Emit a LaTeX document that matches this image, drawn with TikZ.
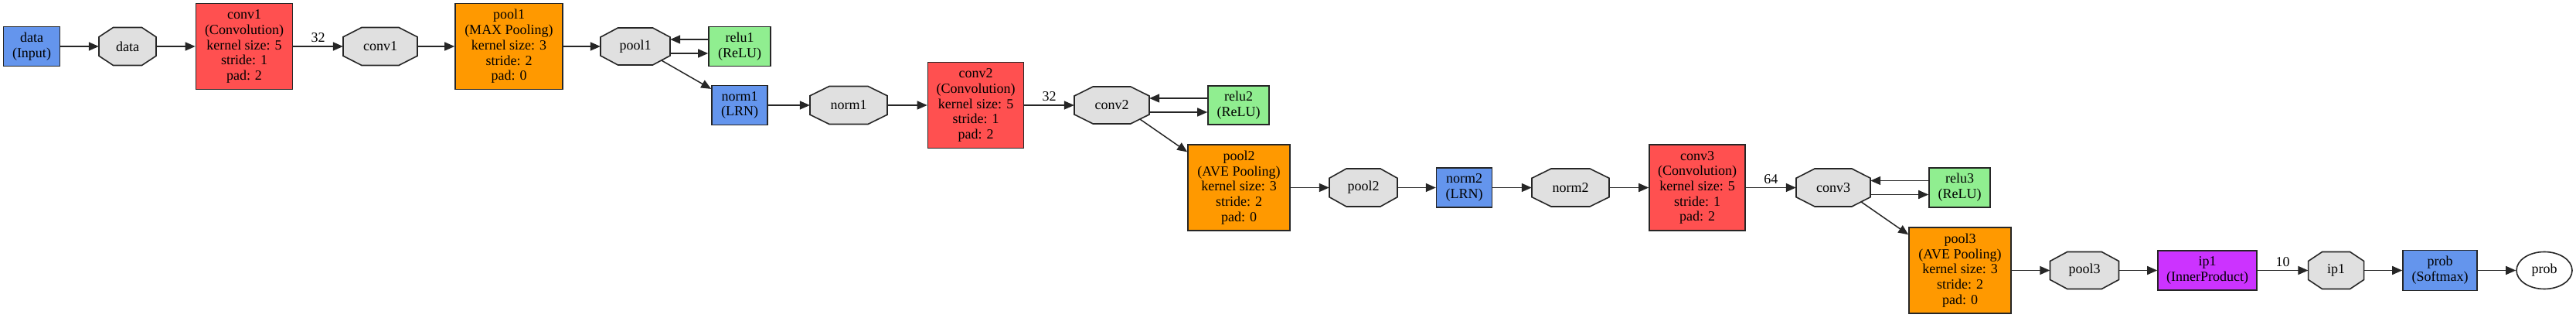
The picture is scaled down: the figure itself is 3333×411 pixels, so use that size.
\documentclass[tikz,border=0pt]{standalone}
\usepackage{fontspec}
\setmainfont{Liberation Serif}
\usetikzlibrary{arrows.meta,shapes.geometric}
\definecolor{convc}{HTML}{FF5050}
\definecolor{poolc}{HTML}{FF9900}
\definecolor{ipc}{HTML}{CC33FF}
\definecolor{bluec}{HTML}{6495ED}
\definecolor{reluc}{HTML}{90EE90}
\definecolor{blobc}{HTML}{E0E0E0}
\newcommand{\octblob}[6]{%
  \draw[blobshape] (#2-#4/2,#3-#5/4) -- (#2-#4/4,#3-#5/2) -- (#2+#4/4,#3-#5/2) -- (#2+#4/2,#3-#5/4) -- (#2+#4/2,#3+#5/4) -- (#2+#4/4,#3+#5/2) -- (#2-#4/4,#3+#5/2) -- (#2-#4/2,#3+#5/4) -- cycle;
  \node[blobtext, minimum width=#4, minimum height=#5] (#1) at (#2,#3) {#6};
  \coordinate (#1-se) at (#2+3*#4/8,#3+3*#5/8);
}
\tikzset{
  txt/.style={font=\fontsize{18}{19.7}\selectfont, align=center, inner sep=0pt},
  layer/.style={txt, draw=black!85, line width=1.6pt, rectangle},
  blobshape/.style={draw=black!85, line width=1.6pt, fill=blobc},
  blobtext/.style={txt, rectangle},
  edge/.style={draw=black!85, line width=1.5pt, -{Triangle[length=13pt,width=11pt]}},
  elabel/.style={txt, midway, yshift=11pt},
}
\begin{document}
\begin{tikzpicture}[x=1pt,y=-1pt]
\useasboundingbox[fill=white] (0,0) rectangle (3333,411);
% row 1
\node[layer, fill=bluec, minimum width=73, minimum height=51] (dataL) at (41,60) {data\\(Input)};
\octblob{dataB}{165}{60}{74}{49}{data}
\node[layer, fill=convc, minimum width=125, minimum height=111] (conv1L) at (316,60) {conv1\\(Convolution)\\kernel size: 5\\stride: 1\\pad: 2};
\octblob{conv1B}{492}{60}{96}{49}{conv1}
\node[layer, fill=poolc, minimum width=139, minimum height=111] (pool1L) at (658.5,60) {pool1\\(MAX Pooling)\\kernel size: 3\\stride: 2\\pad: 0};
\octblob{pool1B}{822}{60}{90}{48}{pool1}
\node[layer, fill=reluc, minimum width=80, minimum height=51] (relu1L) at (957,60) {relu1\\(ReLU)};
% row 2
\node[layer, fill=bluec, minimum width=72, minimum height=51] (norm1L) at (957,136) {norm1\\(LRN)};
\octblob{norm1B}{1098}{136}{100}{49}{norm1}
\node[layer, fill=convc, minimum width=124, minimum height=111] (conv2L) at (1262.5,136) {conv2\\(Convolution)\\kernel size: 5\\stride: 1\\pad: 2};
\octblob{conv2B}{1438.5}{136}{97}{48}{conv2}
\node[layer, fill=reluc, minimum width=79, minimum height=50] (relu2L) at (1602.5,136) {relu2\\(ReLU)};
% row 3
\node[layer, fill=poolc, minimum width=132, minimum height=111] (pool2L) at (1603,242.5) {pool2\\(AVE Pooling)\\kernel size: 3\\stride: 2\\pad: 0};
\octblob{pool2B}{1764}{242.5}{88}{49}{pool2}
\node[layer, fill=bluec, minimum width=72, minimum height=51] (norm2L) at (1894.6,242.5) {norm2\\(LRN)};
\octblob{norm2B}{2032}{242.5}{100}{49}{norm2}
\node[layer, fill=convc, minimum width=124, minimum height=111] (conv3L) at (2196,242.5) {conv3\\(Convolution)\\kernel size: 5\\stride: 1\\pad: 2};
\octblob{conv3B}{2372}{242.5}{96}{49}{conv3}
\node[layer, fill=reluc, minimum width=79, minimum height=51] (relu3L) at (2535.5,242.5) {relu3\\(ReLU)};
% row 4
\node[layer, fill=poolc, minimum width=132, minimum height=111] (pool3L) at (2536,349.5) {pool3\\(AVE Pooling)\\kernel size: 3\\stride: 2\\pad: 0};
\octblob{pool3B}{2697}{349.5}{89}{48}{pool3}
\node[layer, fill=ipc, minimum width=128, minimum height=51] (ip1L) at (2856,349.5) {ip1\\(InnerProduct)};
\octblob{ip1B}{3022.6}{349.5}{72}{48}{ip1}
\node[layer, fill=bluec, minimum width=96, minimum height=52] (probL) at (3157,349.5) {prob\\(Softmax)};
\node[txt, ellipse, draw=black!85, line width=1.6pt, fill=white, minimum width=72, minimum height=48] (probB) at (3292,349.5) {prob};
% edges
\draw[edge] (dataL) -- (dataB);
\draw[edge] (dataB) -- (conv1L);
\draw[edge] (conv1L) -- node[elabel] {32} (conv1B);
\draw[edge] (conv1B) -- (pool1L);
\draw[edge] (pool1L) -- (pool1B);
\draw[edge] ([yshift=9pt]relu1L.west) -- ([yshift=9pt]pool1B.east);
\draw[edge] ([yshift=-9pt]pool1B.east) -- ([yshift=-9pt]relu1L.west);
\draw[edge] (pool1B-se) -- (norm1L);
\draw[edge] (norm1L) -- (norm1B);
\draw[edge] (norm1B) -- (conv2L);
\draw[edge] (conv2L) -- node[elabel] {32} (conv2B);
\draw[edge] ([yshift=9pt]relu2L.west) -- ([yshift=9pt]conv2B.east);
\draw[edge] ([yshift=-9pt]conv2B.east) -- ([yshift=-9pt]relu2L.west);
\draw[edge] (conv2B-se) -- (pool2L);
\draw[edge] (pool2L) -- (pool2B);
\draw[edge] (pool2B) -- (norm2L);
\draw[edge] (norm2L) -- (norm2B);
\draw[edge] (norm2B) -- (conv3L);
\draw[edge] (conv3L) -- node[elabel] {64} (conv3B);
\draw[edge] ([yshift=9pt]relu3L.west) -- ([yshift=9pt]conv3B.east);
\draw[edge] ([yshift=-9pt]conv3B.east) -- ([yshift=-9pt]relu3L.west);
\draw[edge] (conv3B-se) -- (pool3L);
\draw[edge] (pool3L) -- (pool3B);
\draw[edge] (pool3B) -- (ip1L);
\draw[edge] (ip1L) -- node[elabel] {10} (ip1B);
\draw[edge] (ip1B) -- (probL);
\draw[edge] (probL) -- (probB);
\end{tikzpicture}
\end{document}
